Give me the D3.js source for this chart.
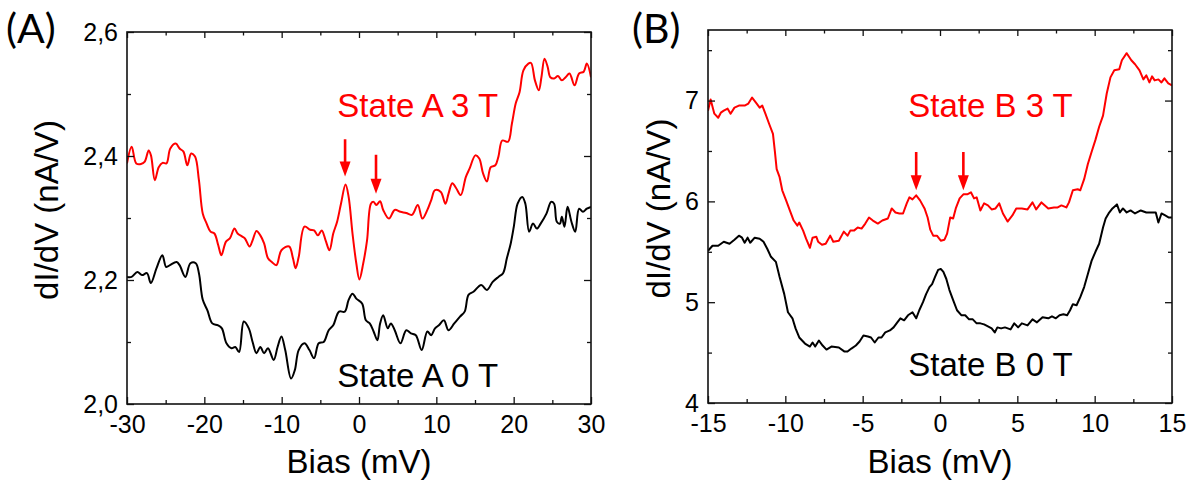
<!DOCTYPE html>
<html>
<head>
<meta charset="utf-8">
<script src="https://cdn.jsdelivr.net/npm/d3@7"></script>
<style>
  html, body { margin: 0; padding: 0; background: #fff; }
  svg { display: block; }
  text { font-family: "Liberation Sans", Arial, sans-serif; fill: #000; }
  .panel-tag { font-family: Lato, "Open Sans", sans-serif; }
</style>
</head>
<body>
<svg id="chart" width="1191" height="489"></svg>
<script>
// ---------- Panel A: bias sweep ±30 mV ----------
const biasA3T = [-30.0,-29.4,-28.8,-28.2,-27.7,-27.2,-26.9,-26.4,-25.9,-25.4,-24.9,-24.4,-23.7,-23.2,-22.7,-22.2,-21.7,-21.2,-20.7,-20.2,-19.7,-19.2,-18.7,-18.2,-17.8,-17.2,-16.7,-16.1,-15.7,-15.1,-14.75,-14.15,-13.76,-13.26,-12.76,-12.27,-11.77,-11.27,-10.68,-10.03,-9.04,-8.54,-8.2,-7.8,-7.05,-6.31,-5.81,-5.31,-4.82,-4.32,-3.82,-3.33,-2.83,-2.33,-1.74,-1.34,-0.84,-0.35,0.05,0.55,1.04,1.54,1.89,2.24,2.73,3.13,3.87,4.62,5.36,6.11,6.85,7.6,8.2,8.84,9.34,9.83,10.58,11.18,11.57,12.07,12.57,13.16,13.81,14.31,15.05,15.55,16.04,16.54,17.04,17.63,18.03,18.53,19.27,19.77,20.27,20.76,21.26,21.9,22.25,22.75,23.25,23.59,23.99,24.39,24.74,25.23,25.73,26.23,26.72,27.22,27.87,28.46,29.06,29.46,30.0];
const didvA3T = [2.388,2.415,2.388,2.387,2.391,2.409,2.401,2.361,2.382,2.389,2.388,2.412,2.420,2.412,2.407,2.385,2.404,2.399,2.361,2.307,2.291,2.278,2.275,2.256,2.240,2.262,2.267,2.283,2.275,2.270,2.267,2.254,2.264,2.279,2.272,2.259,2.235,2.229,2.224,2.248,2.254,2.235,2.219,2.237,2.286,2.281,2.280,2.272,2.280,2.264,2.248,2.275,2.294,2.323,2.354,2.334,2.275,2.227,2.201,2.227,2.264,2.323,2.326,2.321,2.327,2.313,2.299,2.313,2.310,2.308,2.305,2.321,2.299,2.313,2.329,2.345,2.342,2.323,2.339,2.356,2.348,2.337,2.366,2.380,2.401,2.396,2.372,2.359,2.382,2.385,2.399,2.425,2.423,2.452,2.485,2.503,2.538,2.549,2.550,2.522,2.506,2.527,2.557,2.544,2.527,2.525,2.529,2.522,2.527,2.533,2.514,2.533,2.536,2.549,2.527];

const biasA0T = [-30.0,-29.4,-28.66,-28.06,-27.42,-26.92,-26.18,-25.43,-24.93,-24.44,-23.59,-23.2,-22.45,-21.8,-21.11,-20.7,-20.2,-19.6,-18.97,-18.23,-17.73,-17.14,-16.49,-16.0,-15.5,-14.9,-14.25,-13.76,-13.26,-12.76,-12.27,-11.77,-11.03,-10.53,-10.03,-9.54,-8.79,-8.29,-7.8,-7.05,-6.41,-5.81,-5.21,-4.57,-3.92,-3.33,-2.58,-1.84,-1.34,-0.84,-0.35,0.4,0.89,1.39,1.89,2.38,2.73,3.13,3.72,4.12,4.62,5.36,6.11,6.71,7.35,8.1,8.84,9.34,9.83,10.33,10.98,11.57,12.32,13.06,13.66,14.16,14.8,15.8,16.54,17.29,18.03,18.63,19.12,19.62,20.02,20.51,21.11,21.51,22.0,22.5,23.0,23.49,24.24,24.84,25.23,25.58,25.98,26.23,26.57,26.97,27.47,27.96,28.46,28.96,29.46,30.0];
const didvA0T = [2.205,2.205,2.213,2.208,2.211,2.195,2.219,2.240,2.221,2.224,2.229,2.224,2.205,2.227,2.227,2.211,2.168,2.151,2.130,2.127,2.122,2.098,2.090,2.092,2.084,2.133,2.122,2.100,2.082,2.092,2.082,2.090,2.071,2.092,2.109,2.087,2.041,2.055,2.087,2.098,2.087,2.074,2.098,2.100,2.119,2.127,2.149,2.149,2.168,2.178,2.170,2.162,2.135,2.130,2.117,2.103,2.130,2.143,2.122,2.130,2.119,2.098,2.119,2.114,2.111,2.087,2.117,2.111,2.122,2.127,2.135,2.119,2.130,2.141,2.149,2.176,2.181,2.192,2.184,2.197,2.205,2.211,2.235,2.259,2.286,2.323,2.334,2.323,2.278,2.291,2.283,2.291,2.307,2.326,2.323,2.294,2.291,2.302,2.286,2.318,2.294,2.278,2.315,2.310,2.315,2.318];

// arrows marking the split peaks: bias, tail value, tip value
const arrowsA = [
  { bias: -1.8, from: 2.427, to: 2.367 },
  { bias: 2.2, from: 2.402, to: 2.339 }
];

// ---------- Panel B: bias sweep ±15 mV ----------
const biasB3T = [-15.0,-14.83,-14.59,-14.34,-14.17,-13.98,-13.73,-13.54,-13.29,-13.0,-12.63,-12.39,-12.15,-11.9,-11.66,-11.49,-11.29,-11.05,-10.8,-10.68,-10.56,-10.37,-10.2,-9.95,-9.71,-9.46,-9.22,-9.1,-8.85,-8.66,-8.41,-8.24,-8.0,-7.88,-7.63,-7.39,-7.1,-6.9,-6.54,-6.22,-5.98,-5.8,-5.56,-5.32,-5.07,-4.83,-4.59,-4.34,-4.02,-3.73,-3.37,-3.12,-2.88,-2.63,-2.39,-2.15,-1.98,-1.78,-1.54,-1.29,-1.0,-0.8,-0.63,-0.44,-0.2,0.05,0.29,0.46,0.66,0.85,1.02,1.27,1.51,1.76,2.0,2.2,2.37,2.61,2.85,3.1,3.34,3.59,3.83,4.07,4.37,4.68,4.93,5.29,5.66,5.98,6.22,6.56,7.0,7.37,7.61,7.85,8.17,8.34,8.59,8.9,9.07,9.32,9.56,9.8,10.05,10.29,10.54,10.78,11.02,11.27,11.59,11.76,12.07,12.37,12.61,12.9,13.15,13.34,13.54,13.71,13.88,14.12,14.32,14.51,14.76,15.0];
const didvB3T = [6.90,7.01,6.87,6.83,6.88,6.90,6.92,6.87,6.93,6.95,6.95,6.97,7.03,6.98,6.93,6.95,6.87,6.77,6.67,6.50,6.32,6.24,6.11,6.01,5.91,5.81,5.76,5.79,5.71,5.63,5.54,5.64,5.65,5.60,5.57,5.58,5.66,5.60,5.61,5.70,5.66,5.71,5.71,5.74,5.73,5.78,5.84,5.81,5.78,5.81,5.83,5.93,5.89,5.88,5.88,5.98,6.04,6.02,6.06,6.01,5.93,5.84,5.72,5.66,5.66,5.61,5.62,5.68,5.84,5.83,5.93,6.03,6.07,6.07,6.09,6.03,6.04,5.91,5.98,5.96,5.92,5.93,5.98,5.88,5.80,5.86,5.93,5.93,5.92,5.99,5.92,5.99,5.93,5.94,5.94,5.96,5.94,5.99,6.11,6.12,6.11,6.22,6.37,6.49,6.61,6.74,6.85,7.07,7.23,7.30,7.31,7.40,7.47,7.40,7.36,7.30,7.21,7.25,7.18,7.24,7.20,7.21,7.18,7.22,7.17,7.15];

const biasB0T = [-15.0,-14.71,-14.34,-13.98,-13.61,-13.29,-13.0,-12.8,-12.63,-12.44,-12.27,-11.98,-11.66,-11.41,-11.17,-10.93,-10.61,-10.37,-10.07,-9.83,-9.54,-9.34,-9.1,-8.73,-8.41,-8.24,-8.07,-7.83,-7.59,-7.34,-7.02,-6.54,-6.17,-5.98,-5.73,-5.44,-5.2,-4.95,-4.66,-4.46,-4.22,-3.98,-3.78,-3.54,-3.24,-3.0,-2.76,-2.56,-2.32,-2.07,-1.78,-1.54,-1.34,-1.1,-0.9,-0.68,-0.51,-0.32,-0.12,0.05,0.22,0.41,0.61,0.85,1.1,1.39,1.63,1.88,2.12,2.37,2.61,2.85,3.1,3.34,3.54,3.71,3.95,4.2,4.56,4.8,5.05,5.29,5.66,5.98,6.27,6.63,7.0,7.24,7.49,7.73,7.98,8.22,8.41,8.59,8.83,9.07,9.32,9.56,9.8,10.05,10.29,10.54,10.71,10.9,11.15,11.44,11.63,11.83,12.07,12.32,12.61,12.98,13.34,13.71,13.95,14.12,14.32,14.56,14.8,15.0];
const didvB0T = [5.51,5.56,5.56,5.60,5.58,5.62,5.66,5.64,5.59,5.64,5.59,5.64,5.63,5.60,5.53,5.45,5.40,5.25,5.08,4.90,4.84,4.74,4.65,4.59,4.56,4.60,4.56,4.62,4.57,4.53,4.56,4.55,4.51,4.51,4.54,4.57,4.61,4.67,4.66,4.65,4.60,4.65,4.65,4.70,4.72,4.75,4.80,4.84,4.82,4.87,4.90,4.84,4.92,5.00,5.08,5.15,5.18,5.25,5.32,5.33,5.30,5.23,5.12,5.02,4.92,4.87,4.87,4.83,4.83,4.79,4.79,4.78,4.76,4.74,4.70,4.75,4.74,4.75,4.73,4.79,4.75,4.79,4.77,4.83,4.80,4.85,4.84,4.86,4.84,4.87,4.88,4.87,4.92,4.98,4.97,5.05,5.15,5.28,5.41,5.50,5.58,5.74,5.83,5.88,5.93,5.97,5.89,5.93,5.89,5.91,5.88,5.91,5.89,5.89,5.89,5.79,5.88,5.86,5.84,5.84];

const arrowsB = [
  { bias: -1.54, from: 6.49, to: 6.11 },
  { bias: 1.51, from: 6.49, to: 6.11 }
];

// ---------- tick values ----------
const xMajorA = [-30, -20, -10, 0, 10, 20, 30];
const xMinorA = [-25, -15, -5, 5, 15, 25];
const yMajorA = [2.0, 2.2, 2.4, 2.6];
const yMinorA = [2.1, 2.3, 2.5];
const xMajorB = [-15, -10, -5, 0, 5, 10, 15];
const xMinorB = [-12.5, -7.5, -2.5, 2.5, 7.5, 12.5];
const yMajorB = [4, 5, 6, 7];
const yMinorB = [4.5, 5.5, 6.5, 7.5];

const svg = d3.select("#chart");
const commaFmt = d => d3.format(".1f")(d).replace(".", ",");

function drawPanel(cfg) {
  const x = d3.scaleLinear().domain(cfg.xDomain).range([cfg.left, cfg.right]);
  const y = d3.scaleLinear().domain(cfg.yDomain).range([cfg.bottom, cfg.top]);
  const g = svg.append("g");
  const w = cfg.right - cfg.left, h = cfg.bottom - cfg.top;

  // clip region for curves
  const clipId = "clip-" + cfg.id;
  svg.append("clipPath").attr("id", clipId)
    .append("rect").attr("x", cfg.left).attr("y", cfg.top).attr("width", w).attr("height", h);

  // traces
  const series = [
    { bias: cfg.bias0, didv: cfg.didv0, color: "#000000" },
    { bias: cfg.bias3, didv: cfg.didv3, color: "#ff0000" }
  ];
  series.forEach(s => {
    const pts = s.bias.map((b, i) => [b, s.didv[i]]);
    const line = d3.line().x(d => x(d[0])).y(d => y(d[1])).curve(cfg.curve);
    g.append("path").datum(pts)
      .attr("clip-path", `url(#${clipId})`)
      .attr("d", line)
      .attr("fill", "none")
      .attr("stroke", s.color)
      .attr("stroke-width", 2)
      .attr("stroke-linejoin", "round");
  });

  // axes with inward ticks on all four sides
  const addAxis = (gen, tr, vals, size, fmt, pad) => {
    const a = g.append("g").attr("transform", tr)
      .call(gen.tickValues(vals).tickSize(size).tickSizeOuter(0).tickPadding(pad).tickFormat(fmt));
    a.select(".domain").remove();
    a.selectAll("line").attr("stroke", "#111").attr("stroke-width", 1.3);
    a.selectAll("text").attr("font-size", 25).attr("font-family", "Liberation Sans, Arial, sans-serif").attr("fill", "#000");
    return a;
  };
  const none = () => "";
  addAxis(d3.axisBottom(x), `translate(0,${cfg.bottom})`, cfg.xMajor, -7, d => String(d), 11);
  addAxis(d3.axisBottom(x), `translate(0,${cfg.bottom})`, cfg.xMinor, -4, none, 0);
  addAxis(d3.axisTop(x), `translate(0,${cfg.top})`, cfg.xMajor, -6, none, 0);
  addAxis(d3.axisTop(x), `translate(0,${cfg.top})`, cfg.xMinor, -3.5, none, 0);
  addAxis(d3.axisLeft(y), `translate(${cfg.left},0)`, cfg.yMajor, -7, cfg.yFmt, 9);
  addAxis(d3.axisLeft(y), `translate(${cfg.left},0)`, cfg.yMinor, -4, none, 0);
  addAxis(d3.axisRight(y), `translate(${cfg.right},0)`, cfg.yMajor, -7, none, 0);
  addAxis(d3.axisRight(y), `translate(${cfg.right},0)`, cfg.yMinor, -4, none, 0);

  // frame
  g.append("rect").attr("x", cfg.left).attr("y", cfg.top).attr("width", w).attr("height", h)
    .attr("fill", "none").attr("stroke", "#111").attr("stroke-width", 1.6);

  // arrows
  cfg.arrows.forEach(a => {
    const ax = x(a.bias), y0 = y(a.from), y1 = y(a.to);
    const headLen = 15, headHalf = 5.5;
    g.append("line").attr("x1", ax).attr("x2", ax).attr("y1", y0).attr("y2", y1 - headLen + 1)
      .attr("stroke", "#ff0000").attr("stroke-width", 2.6);
    g.append("path")
      .attr("d", `M${ax - headHalf},${y1 - headLen} L${ax + headHalf},${y1 - headLen} L${ax},${y1} Z`)
      .attr("fill", "#ff0000");
  });

  // state labels
  g.append("text").attr("x", x(cfg.label3[0])).attr("y", y(cfg.label3[1]))
    .attr("font-size", 33).style("fill", "#ff0000").text(cfg.text3);
  g.append("text").attr("x", x(cfg.label0[0])).attr("y", y(cfg.label0[1]))
    .attr("font-size", 33).text(cfg.text0);

  // axis titles
  g.append("text").attr("x", (cfg.left + cfg.right) / 2).attr("y", 473)
    .attr("text-anchor", "middle").attr("font-size", 33).text("Bias (mV)");
  g.append("text")
    .attr("transform", `translate(${cfg.yTitleX},${(cfg.top + cfg.bottom) / 2 - 8}) rotate(-90)`)
    .attr("text-anchor", "middle").attr("font-size", 33).text("dI/dV (nA/V)");

  // panel tag
  svg.append("text").attr("class", "panel-tag").attr("x", cfg.tagX).attr("y", 43)
    .attr("font-size", 41).text(cfg.tag);
}

drawPanel({
  id: "a", tag: "(A)", tagX: 6,
  left: 127, right: 591, top: 32, bottom: 404,
  xDomain: [-30, 30], yDomain: [2.0, 2.6],
  xMajor: xMajorA, xMinor: xMinorA, yMajor: yMajorA, yMinor: yMinorA,
  yFmt: commaFmt, yTitleX: 58,
  bias3: biasA3T, didv3: didvA3T, bias0: biasA0T, didv0: didvA0T,
  curve: d3.curveCatmullRom.alpha(0.5),
  arrows: arrowsA,
  text3: "State A 3 T", label3: [-2.8, 2.463],
  text0: "State A 0 T", label0: [-2.8, 2.027]
});

drawPanel({
  id: "b", tag: "(B)", tagX: 632,
  left: 708, right: 1172, top: 30, bottom: 403,
  xDomain: [-15, 15], yDomain: [4, 7.7],
  xMajor: xMajorB, xMinor: xMinorB, yMajor: yMajorB, yMinor: yMinorB,
  yFmt: d => String(d), yTitleX: 670,
  bias3: biasB3T, didv3: didvB3T, bias0: biasB0T, didv0: didvB0T,
  curve: d3.curveLinear,
  arrows: arrowsB,
  text3: "State B 3 T", label3: [-2.05, 6.84],
  text0: "State B 0 T", label0: [-2.05, 4.27]
});
</script>
</body>
</html>
